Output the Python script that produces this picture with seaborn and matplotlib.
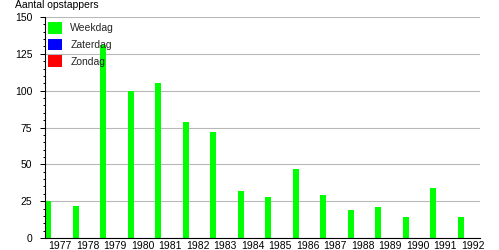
import matplotlib
matplotlib.use("Agg")
import matplotlib.pyplot as plt
import seaborn as sns
import pandas as pd
from matplotlib.ticker import MultipleLocator

years = ["1977", "1978", "1979", "1980", "1981", "1982", "1983", "1984",
         "1985", "1986", "1987", "1988", "1989", "1990", "1991", "1992"]
weekdag = [25, 22, 131, 100, 105, 79, 72, 32, 28, 47, 29, 19, 21, 14, 34, 14]
zaterdag = [0] * 16
zondag = [0] * 16
series_names = ["Weekdag", "Zaterdag", "Zondag"]
colors = ["#00ff00", "#0000ff", "#ff0000"]
y_label = "Aantal opstappers"

rows = []
for name, vals in zip(series_names, [weekdag, zaterdag, zondag]):
    for y, v in zip(years, vals):
        rows.append({"jaar": y, "waarde": v, "dag": name})
df = pd.DataFrame(rows)

sns.set_theme(style="white")
plt.rcParams["font.family"] = ["Liberation Sans", "DejaVu Sans"]

W, H = 499, 250
fig = plt.figure(figsize=(W / 100, H / 100), dpi=100)
ax = fig.add_axes([45 / W, 12 / H, 435 / W, 221 / H])

sns.barplot(data=df, x="jaar", y="waarde", hue="dag", order=years,
            hue_order=series_names, palette=dict(zip(series_names, colors)),
            width=1.275, gap=0.46, errorbar=None, linewidth=0,
            saturation=1, ax=ax)

ax.set_xlim(-15 / 27.5, 420 / 27.5)
ax.set_ylim(0, 150)
ax.yaxis.set_major_locator(MultipleLocator(25))
ax.yaxis.set_minor_locator(MultipleLocator(5))
ax.set_axisbelow(True)
ax.grid(axis="y", which="major", color="#b8b8b8", linewidth=0.8)
ax.grid(axis="x", visible=False)

for s in ["top", "right"]:
    ax.spines[s].set_visible(False)
for s in ["left", "bottom"]:
    ax.spines[s].set_color("black")
    ax.spines[s].set_linewidth(0.8)

ax.tick_params(axis="y", which="major", length=3.6, width=0.72, color="black",
               labelsize=7.5, pad=5.5, left=True, labelcolor="black")
ax.tick_params(axis="y", which="minor", length=1.7, width=0.72, color="black", left=True)
ax.tick_params(axis="x", length=0, labelsize=7.5, pad=2, labelcolor="black")
ax.set_xlabel("")
ax.set_ylabel("")

fig.text(15 / W, 1 - 0.5 / H, y_label, ha="left", va="top", fontsize=7.5, color="black")

handles, labels = ax.get_legend_handles_labels()
ax.legend(handles, labels, loc="upper left",
          bbox_to_anchor=(48 / W, 1 - 22.3 / H), bbox_transform=fig.transFigure,
          frameon=False, borderpad=0, borderaxespad=0, fontsize=7.5,
          handlelength=1.3, handleheight=1.3, handletextpad=0.85,
          labelspacing=0.5)

fig.savefig("out.png", dpi=100)
